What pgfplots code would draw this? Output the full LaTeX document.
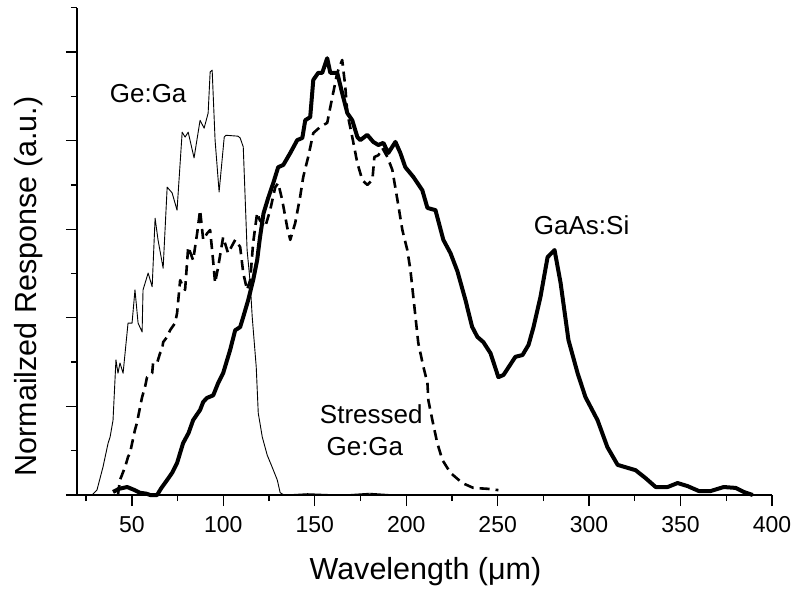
\documentclass[border=0pt]{standalone}
\usepackage{fontspec}
\setmainfont{Liberation Sans}
\usepackage{pgfplots}
\usepackage{pgfplotstable}
\pgfplotsset{compat=1.18}

% Ge:Ga photoconductor response (thin solid)
\pgfplotstableread{
x y
26.0 0
28.2 0
30.9 0.011
34.2 0.063
37.0 0.117
38.1 0.131
39.7 0.169
41.3 0.305
42.4 0.275
43.5 0.298
45.2 0.275
47.9 0.388
50.1 0.388
51.7 0.463
53.4 0.388
55.6 0.368
56.1 0.463
58.9 0.501
61.1 0.470
62.7 0.625
64.3 0.576
67.1 0.512
69.3 0.695
72.0 0.682
74.7 0.643
77.5 0.819
79.1 0.808
80.8 0.819
84.0 0.761
87.3 0.846
89.5 0.828
91.7 0.862
92.8 0.955
93.9 0.959
95.5 0.801
97.7 0.684
100.5 0.808
101.5 0.812
108.0 0.810
109.2 0.806
110.9 0.786
113.0 0.553
114.7 0.479
115.8 0.402
118.0 0.289
119.1 0.185
121.3 0.131
124.0 0.090
126.7 0.063
129.5 0.034
131.1 0.005
133.3 0
146.0 0.003
165.0 0
180.0 0.004
195.0 0
240.6 0
}\gega

% Stressed Ge:Ga response (dashed)
\pgfplotstableread{
x y
42.4 0
43.5 0.034
46.3 0.063
47.9 0.086
49.0 0.095
51.7 0.147
52.8 0.163
54.5 0.199
55.6 0.221
57.2 0.244
58.3 0.266
61.1 0.275
61.6 0.298
63.8 0.298
65.4 0.320
66.5 0.327
67.1 0.345
69.3 0.357
70.9 0.372
73.6 0.388
74.7 0.410
76.4 0.485
78.0 0.470
79.1 0.463
80.8 0.560
83.5 0.530
85.7 0.591
87.3 0.643
89.0 0.576
91.2 0.591
92.8 0.598
94.4 0.530
95.5 0.479
97.2 0.515
99.9 0.582
102.6 0.546
106.5 0.576
109.2 0.560
110.9 0.501
113.0 0.463
114.7 0.485
116.3 0.569
118.5 0.637
120.0 0.620
122.9 0.605
125.6 0.643
128.4 0.695
130.0 0.704
132.2 0.666
134.9 0.605
136.6 0.576
139.3 0.614
142.0 0.673
143.7 0.718
146.4 0.763
149.2 0.817
153.0 0.831
156.8 0.840
159.6 0.898
162.3 0.953
165.0 0.982
166.7 0.921
167.8 0.862
170.5 0.808
173.3 0.749
176.0 0.711
178.7 0.700
181.5 0.711
182.6 0.763
184.8 0.767
187.0 0.783
189.7 0.763
192.4 0.734
195.2 0.666
197.9 0.598
200.6 0.553
202.3 0.508
203.9 0.447
206.6 0.343
209.4 0.289
211.6 0.253
212.1 0.214
214.3 0.169
217.0 0.117
219.8 0.079
224.2 0.050
230.7 0.027
236.7 0.016
244.4 0.014
250.4 0.011
}\stressed

% GaAs:Si response (thick solid)
\pgfplotstableread{
x y
39.7 0.007
43.0 0.014
47.4 0.018
51.0 0.012
54.5 0.005
58.0 0.003
60.0 0
63.8 0
66.0 0.015
69.3 0.034
72.0 0.050
74.7 0.072
78.0 0.117
81.0 0.140
83.5 0.169
87.3 0.192
89.0 0.210
91.0 0.219
94.5 0.225
97.2 0.253
99.9 0.275
103.7 0.327
106.5 0.372
109.2 0.379
110.9 0.402
113.6 0.440
116.3 0.485
118.5 0.530
120.0 0.580
122.0 0.636
124.5 0.670
127.3 0.704
130.0 0.740
132.8 0.745
136.6 0.772
140.4 0.801
143.2 0.806
144.8 0.846
147.5 0.853
149.2 0.937
151.9 0.953
154.1 0.953
156.8 0.986
158.5 0.953
162.3 0.953
165.0 0.907
167.8 0.862
170.5 0.846
173.3 0.808
174.9 0.801
178.7 0.813
182.0 0.797
184.8 0.790
187.5 0.795
190.2 0.772
194.1 0.797
196.8 0.772
199.5 0.740
203.9 0.718
208.8 0.688
211.6 0.648
216.0 0.643
220.3 0.576
224.2 0.546
228.0 0.505
232.4 0.440
236.0 0.380
238.9 0.357
242.2 0.345
246.1 0.320
250.4 0.266
253.2 0.271
259.7 0.312
263.6 0.316
266.9 0.339
269.6 0.379
273.4 0.447
277.3 0.537
281.1 0.553
284.4 0.479
288.7 0.350
293.7 0.275
298.0 0.221
304.6 0.169
310.0 0.108
315.6 0.068
325.4 0.056
330.9 0.038
336.4 0.018
342.9 0.018
348.4 0.027
353.9 0.020
360.0 0.009
366.5 0.009
373.6 0.018
380.2 0.016
384.5 0.007
389.5 0
}\gaas

\begin{document}
\begin{tikzpicture}
\path[use as bounding box] (0,0) rectangle (794pt,590pt);
\begin{axis}[
  at={(77pt,95pt)}, anchor=south west,
  scale only axis, width=695pt, height=487.3pt,
  xmin=20, xmax=400, ymin=0, ymax=1.1,
  clip=false,
  axis lines*=left,
  axis line style={-, line width=1.6pt},
  xtick={50,100,...,400},
  minor xtick={25,75,...,375},
  ytick={0,0.2,0.4,0.6,0.8,1.0},
  minor ytick={0.1,0.3,0.5,0.7,0.9,1.1},
  yticklabels={},
  tick align=outside,
  major tick length=11pt,
  minor tick length=6pt,
  every tick/.style={black, line width=1.3pt},
  /pgf/number format/assume math mode=true,
  xticklabel style={font=\fontsize{23}{27}\selectfont, anchor=base, yshift=-26pt},
  xlabel={Wavelength (μm)},
  ylabel={Normailzed Response (a.u.)},
  xlabel style={font=\fontsize{30.5}{36}\selectfont, at={(axis description cs:0.5014,-0.1744)}, anchor=base},
  ylabel style={font=\fontsize{30.5}{36}\selectfont, at={(axis description cs:-0.0576,0.428)}, anchor=base},
  every axis plot/.append style={black, line join=round},
]
\addplot[line width=0.9pt] table[x=x, y=y] {\gega};
\addplot[line width=2.6pt, dash pattern=on 10pt off 6pt] table[x=x, y=y] {\stressed};
\addplot[line width=4pt] table[x=x, y=y] {\gaas};

\node[font=\fontsize{26}{31}\selectfont, anchor=base] at (axis cs:58.9,0.885) {Ge:Ga};
\node[font=\fontsize{26}{31}\selectfont, anchor=base] at (axis cs:180.9,0.1625) {Stressed};
\node[font=\fontsize{26}{31}\selectfont, anchor=base] at (axis cs:177.4,0.0903) {Ge:Ga};
\node[font=\fontsize{26}{31}\selectfont, anchor=base] at (axis cs:295.9,0.587) {GaAs:Si};
\end{axis}
\end{tikzpicture}
\end{document}
